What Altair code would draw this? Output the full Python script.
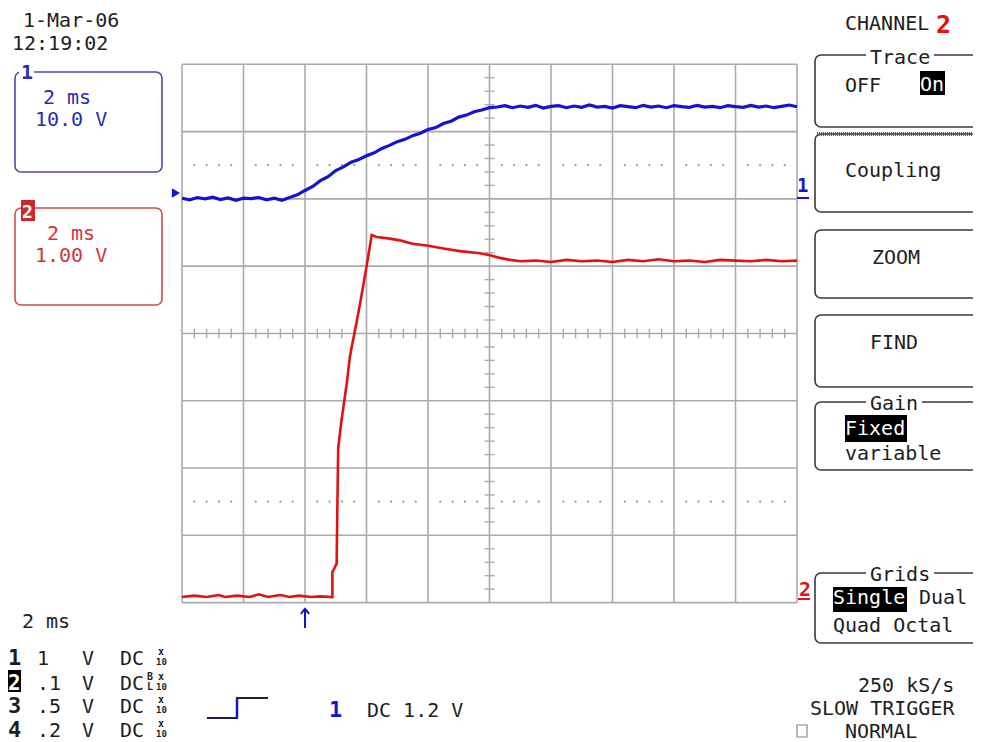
import altair as alt
import pandas as pd

# ---------------- data ----------------
# Channel 1 (blue), time in ms, volts (10 V/div)
blue_t = [-4.0, -3.75, -3.5, -3.25, -3.0, -2.75, -2.5, -2.25, -2.0, -1.75,
          -1.5, -1.25, -1.0, -0.75, -0.5, -0.25, 0.0, 0.25, 0.5, 0.75,
          1.0, 1.25, 1.5, 1.75, 2.0, 2.25, 2.5, 2.75, 3.0, 3.25,
          3.5, 3.75, 4.0, 4.25, 4.5, 4.75, 5.0, 5.25, 5.5, 5.75,
          6.0, 6.25, 6.5, 6.75, 7.0, 7.25, 7.5, 7.75, 8.0, 8.25,
          8.5, 8.75, 9.0, 9.25, 9.5, 9.75, 10.0, 10.25, 10.5, 10.75,
          11.0, 11.25, 11.5, 11.75, 12.0, 12.25, 12.5, 12.75, 13.0, 13.25,
          13.5, 13.75, 14.0, 14.25, 14.5, 14.75, 15.0, 15.25, 15.5, 15.75, 16.0]
blue_v = [0.10, -0.15, 0.20, 0.00, 0.25, -0.10, 0.15, -0.20, 0.10, 0.05,
          0.20, -0.15, 0.10, -0.20, 0.20, 0.60, 1.25, 1.85, 2.70, 3.30,
          4.20, 4.75, 5.45, 5.85, 6.40, 6.85, 7.50, 7.95, 8.50, 8.85,
          9.40, 9.75, 10.30, 10.60, 11.20, 11.55, 12.15, 12.45, 12.95, 13.20,
          13.55, 13.65, 13.85, 13.55, 13.80, 13.60, 13.90, 13.50, 13.75, 13.85,
          13.55, 13.80, 13.60, 13.95, 13.65, 13.75, 13.50, 13.85, 13.70, 13.55,
          13.90, 13.65, 13.80, 13.55, 13.85, 13.70, 13.60, 13.90, 13.65, 13.75,
          13.55, 13.85, 13.70, 13.60, 13.90, 13.65, 13.80, 13.55, 13.75, 13.95, 13.70]

# Channel 2 (red), time in ms, volts (1 V/div)
red_t = [-4.0, -3.6, -3.2, -2.8, -2.6, -2.2, -1.8, -1.5, -1.2, -0.8,
         -0.5, -0.2, 0.2, 0.5, 0.89, 0.89, 0.98, 1.03, 1.05, 1.08,
         1.16, 1.25, 1.36, 1.46, 1.52, 1.63, 1.79, 2.0, 2.17, 2.33,
         2.7, 3.09, 3.5, 4.01, 4.5, 5.04, 5.69, 6.02, 6.34, 6.67,
         7.0, 7.5, 8.0, 8.5, 9.0, 9.5, 10.0, 10.5, 11.0, 11.5,
         12.0, 12.5, 13.0, 13.5, 14.0, 14.5, 15.0, 15.5, 16.0]
red_v = [0.00, 0.02, 0.00, 0.03, 0.00, 0.02, 0.00, 0.04, 0.00, 0.03,
         0.00, 0.02, 0.00, 0.01, 0.00, 0.37, 0.45, 0.50, 1.27, 2.21,
         2.53, 2.83, 3.18, 3.57, 3.72, 3.97, 4.36, 4.91, 5.38, 5.35,
         5.33, 5.30, 5.25, 5.22, 5.18, 5.14, 5.11, 5.08, 5.04, 5.01,
         4.99, 5.00, 4.98, 5.01, 4.99, 5.00, 4.98, 5.01, 4.99, 5.02,
         4.99, 5.00, 4.98, 5.01, 5.00, 4.99, 5.01, 4.99, 5.00]

# screen settings
T_RANGE = [-4.0, 16.0]          # 2 ms/div, 10 divisions
CH1_RANGE = [-60.0, 20.0]       # 10 V/div, ground 2 div above centre
CH2_RANGE = [-0.083, 7.917]     # 1 V/div
DIV_RANGE = [0, 8]

# ---------------- layout / style ----------------
OX, OY = 182.0, 64.3            # page position of the graticule
W, H = 615.0, 538.3
MONO = "DejaVu Sans Mono"
INK = "#1e1e1e"
GRID = "#aaaaaa"
BLUE = "#1414d0"
RED = "#e01212"
BLUE_T = "#2c2cb0"
RED_T = "#d03838"
BOX = "#3a3a3a"

one = alt.Data(values=[{"a": 1}])
xs = alt.Scale(domain=T_RANGE, nice=False, zero=False)
ds = alt.Scale(domain=DIV_RANGE, nice=False, zero=False)


def T(text, x, y, color=INK, size=20, weight="normal", align="left", font=MONO):
    return alt.Chart(one).mark_text(
        text=text, align=align, baseline="alphabetic", fontSize=size,
        font=font, color=color, fontWeight=weight
    ).encode(x=alt.value(x - OX), y=alt.value(y - OY))


def box(x1, y1, x2, y2, stroke=BOX, fill=None, sw=1.6, r=6):
    kw = dict(cornerRadius=r)
    if fill is None:
        kw.update(fillOpacity=0, stroke=stroke, strokeWidth=sw)
    else:
        kw.update(fill=fill, fillOpacity=1, strokeWidth=0)
    return alt.Chart(one).mark_rect(**kw).encode(
        x=alt.value(x1 - OX), x2=alt.value(x2 - OX),
        y=alt.value(y1 - OY), y2=alt.value(y2 - OY))


def line(x1, y1, x2, y2, color=INK, sw=2, dash=None):
    kw = dict(color=color, strokeWidth=sw)
    if dash:
        kw["strokeDash"] = dash
    return alt.Chart(one).mark_rule(**kw).encode(
        x=alt.value(x1 - OX), x2=alt.value(x2 - OX),
        y=alt.value(y1 - OY), y2=alt.value(y2 - OY))


layers = []

# ---- graticule ----
major_t = [T_RANGE[0] + 2 * k for k in range(11)]
minor_t = [T_RANGE[0] + 0.4 * k for k in range(1, 50) if k % 5]
minor_d = [0.2 * k for k in range(1, 40) if k % 5]

layers.append(alt.Chart(pd.DataFrame({"t": major_t})).mark_rule(color=GRID, strokeWidth=1.6)
              .encode(x=alt.X("t:Q", scale=xs, axis=None)))
layers.append(alt.Chart(pd.DataFrame({"d": list(range(9))})).mark_rule(color=GRID, strokeWidth=1.6)
              .encode(y=alt.Y("d:Q", scale=ds, axis=None)))
layers.append(alt.Chart(pd.DataFrame({"t": minor_t, "y0": [3.93] * len(minor_t), "y1": [4.07] * len(minor_t)}))
              .mark_rule(color=GRID, strokeWidth=1.4)
              .encode(x=alt.X("t:Q", scale=xs, axis=None), y=alt.Y("y0:Q", scale=ds, axis=None), y2="y1:Q"))
layers.append(alt.Chart(pd.DataFrame({"d": minor_d, "x0": [5.84] * len(minor_d), "x1": [6.16] * len(minor_d)}))
              .mark_rule(color=GRID, strokeWidth=1.4)
              .encode(x=alt.X("x0:Q", scale=xs, axis=None), x2="x1:Q", y=alt.Y("d:Q", scale=ds, axis=None)))
dots = pd.DataFrame({"t": minor_t * 2, "d": [6.5] * len(minor_t) + [1.5] * len(minor_t)})
layers.append(alt.Chart(dots).mark_circle(size=5, color="#9a9a9a", opacity=1)
              .encode(x=alt.X("t:Q", scale=xs, axis=None), y=alt.Y("d:Q", scale=ds, axis=None)))

# ---- traces ----
blue_df = pd.DataFrame({"t": blue_t, "v": blue_v, "i": list(range(len(blue_t)))})
red_df = pd.DataFrame({"t": red_t, "v": red_v, "i": list(range(len(red_t)))})
layers.append(alt.Chart(red_df).mark_line(color=RED, strokeWidth=2.6).encode(
    x=alt.X("t:Q", scale=xs, axis=None),
    y=alt.Y("v:Q", scale=alt.Scale(domain=CH2_RANGE, nice=False, zero=False), axis=None),
    order="i:Q"))
layers.append(alt.Chart(blue_df).mark_line(color=BLUE, strokeWidth=3.2).encode(
    x=alt.X("t:Q", scale=xs, axis=None),
    y=alt.Y("v:Q", scale=alt.Scale(domain=CH1_RANGE, nice=False, zero=False), axis=None),
    order="i:Q"))

# ---- markers around the graticule ----
layers.append(alt.Chart(one).mark_point(shape="triangle-right", filled=True, size=90, color=BLUE, opacity=1)
              .encode(x=alt.value(176 - OX), y=alt.value(193 - OY)))
layers.append(T("1", 797, 192, BLUE, 19, "bold"))
layers.append(line(797, 198, 809, 198, BLUE, 2))
layers.append(T("2", 799, 596, RED, 20, "bold"))
layers.append(line(798, 599, 810, 599, RED, 2))
layers.append(line(305, 610, 305, 628, BLUE, 2))
layers.append(alt.Chart(one).mark_point(shape="M-1,0.7L0,-0.5L1,0.7", filled=False, size=70,
                                        strokeWidth=2, color=BLUE, opacity=1)
              .encode(x=alt.value(305 - OX), y=alt.value(611 - OY)))

# ---- top-left info ----
layers.append(T("1-Mar-06", 23, 27))
layers.append(T("12:19:02", 12, 50))
layers.append(box(15, 72, 162, 172, stroke="#4a4ab0"))
layers.append(box(19, 66, 34, 77, fill="white", r=0))
layers.append(T("1", 21, 79, BLUE_T, 20, "bold"))
layers.append(T("2 ms", 43, 104, BLUE_T))
layers.append(T("10.0 V", 35, 126, BLUE_T))
layers.append(box(15, 208, 162, 305, stroke="#d24a4a"))
layers.append(box(21, 200, 35, 221, fill="#cc2a2a", r=0))
layers.append(T("2", 22, 218, "white", 18, "bold"))
layers.append(T("2 ms", 47, 240, RED_T))
layers.append(T("1.00 V", 35, 262, RED_T))

# ---- right menu ----
layers.append(T("CHANNEL", 845, 30))
layers.append(T("2", 936, 33, RED, 25, "bold"))

layers.append(box(815, 55, 1000, 127))
layers.append(box(866, 48, 934, 60, fill="white", r=0))
layers.append(T("Trace", 870, 64))
layers.append(T("OFF", 845, 92))
layers.append(box(920, 71, 945, 95, fill="black", r=0))
layers.append(T("On", 920, 91, "white"))

layers.append(box(815, 134, 1000, 212))
layers.append(line(817, 134, 981, 134, "#555555", 4, [1, 1]))
layers.append(T("Coupling", 845, 177))

layers.append(box(815, 230, 1000, 298))
layers.append(T("ZOOM", 872, 264))

layers.append(box(815, 315, 1000, 387))
layers.append(T("FIND", 870, 349))

layers.append(box(815, 402, 1000, 470))
layers.append(box(866, 394, 922, 408, fill="white", r=0))
layers.append(T("Gain", 870, 410))
layers.append(box(845, 415, 907, 442, fill="black", r=0))
layers.append(T("Fixed", 845, 435, "white"))
layers.append(T("variable", 845, 460))

layers.append(box(815, 573, 1000, 643))
layers.append(box(866, 565, 934, 580, fill="white", r=0))
layers.append(T("Grids", 870, 581))
layers.append(box(833, 587, 907, 612, fill="black", r=0))
layers.append(T("Single", 833, 604, "white"))
layers.append(T("Dual", 919, 604))
layers.append(T("Quad Octal", 833, 632))

layers.append(T("250 kS/s", 858, 692))
layers.append(T("SLOW TRIGGER", 810, 715))
layers.append(box(797, 725, 807, 737, stroke="#888888", sw=1.2, r=0))
layers.append(T("NORMAL", 845, 738))

# ---- bottom-left channel table ----
layers.append(T("2 ms", 22, 628))
rows_y = [665, 690, 713, 737]
ch_names = ["1", "2", "3", "4"]
ch_vdiv = [" 1", ".1", ".5", ".2"]
for k, (ry, nm, vd) in enumerate(zip(rows_y, ch_names, ch_vdiv)):
    if nm == "2":
        layers.append(box(8, ry - 20, 21, ry + 2, fill="black", r=0))
        layers.append(T(nm, 8, ry, "white", 21, "bold"))
        layers.append(T("B", 147, ry - 10, INK, 10, "bold"))
        layers.append(T("L", 147, ry, INK, 10, "bold"))
    else:
        layers.append(T(nm, 8, ry, INK, 22, "bold"))
    layers.append(T(vd, 37, ry))
    layers.append(T("V", 82, ry))
    layers.append(T("DC", 120, ry))
    layers.append(T("x", 158, ry - 10, INK, 10, "bold"))
    layers.append(T("10", 156, ry, INK, 9, "bold"))

# ---- trigger info ----
layers.append(line(207, 718, 238, 718, "#1c1c50", 2))
layers.append(line(237, 698, 237, 718, BLUE, 2.5))
layers.append(line(236, 698, 268, 698, "#222222", 2))
layers.append(T("1", 329, 717, BLUE, 22, "bold"))
layers.append(T("DC 1.2 V", 367, 717))

chart = alt.layer(*layers).resolve_scale(y="independent").properties(
    width=W, height=H,
    autosize=alt.AutoSizeParams(type="none"),
    padding={"left": OX - 8, "top": OY - 8, "right": 973 - OX - W + 8 - 8 + 0, "bottom": 734 - (OY - 8) - H},
    background="white",
).configure_view(strokeWidth=0)

chart.save("out.html", embed_options={"renderer": "svg", "actions": False})
